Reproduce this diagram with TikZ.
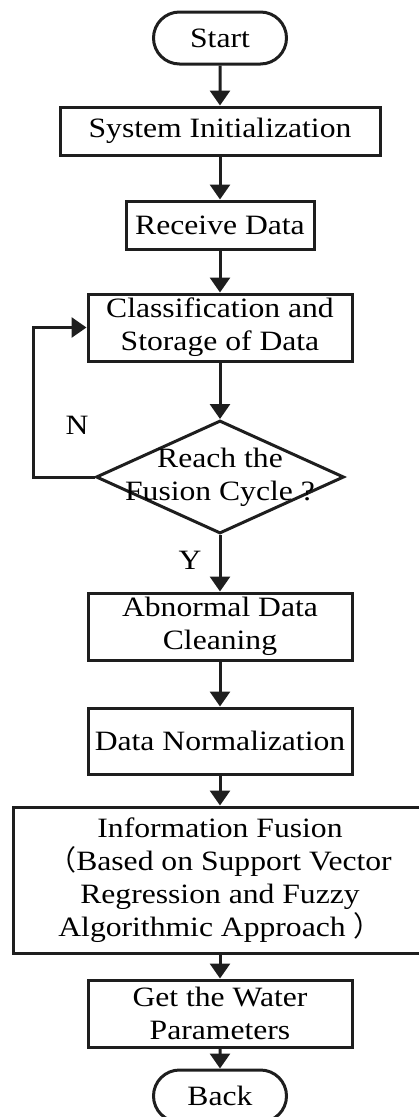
\documentclass[tikz,border=0pt]{standalone}
\usepackage{fontspec}
\setmainfont{Liberation Serif}[FakeStretch=1.13]
\newfontfamily\cjk{Noto Sans CJK SC}
\definecolor{flowline}{RGB}{30, 30, 30}
\usetikzlibrary{shapes.misc, shapes.geometric, arrows.meta, positioning}

\begin{document}
\begin{tikzpicture}[x=1pt, y=-1pt,
    every node/.style={font=\fontsize{28}{33}\selectfont, align=center},
    terminal/.style={draw=flowline, line width=3pt, rounded rectangle, minimum width=133pt, minimum height=52pt, inner sep=0pt},
    process/.style={draw=flowline, line width=3pt, rectangle, minimum height=48pt, inner sep=0pt},
    decision/.style={draw=flowline, line width=3pt, diamond, minimum width=248pt, minimum height=113pt, inner sep=0pt},
    flow/.style={draw=flowline, line width=3pt, -{Triangle[width=20pt, length=15pt]}}]
  \useasboundingbox (0,0) rectangle (419,1117);

  % Start and first steps
  \node[terminal] (start) at (220, 38) {Start};
  \node[process, minimum width=320pt] (init) at (220, 131) {System Initialization};
  \node[process, minimum width=188pt] (recv) at (220, 225) {Receive Data};
  \draw[flow] (start) -- (init);
  \draw[flow] (init) -- (recv);

  % Classification and the fusion cycle check
  \node[process, minimum width=264pt, minimum height=67pt] (classify) at (220, 327.5) {Classification and\\Storage of Data};
  \draw[flow] (recv) -- (classify);
  \node[decision, label={[align=center]center:Reach the\\Fusion Cycle ?}] (cycle) at (220, 477) {};
  \draw[flow] (classify) -- (cycle);
  \draw[flow] (cycle.west) -- ++(-61, 0) |- (classify.west);
  \node (nlabel) at (77, 425) {N};
  \node (ylabel) at (190, 560) {Y};

  % Data processing
  \node[process, minimum width=264pt, minimum height=67pt] (clean) at (220, 626.5) {Abnormal Data\\Cleaning};
  \draw[flow] (cycle) -- (clean);
  \node[process, minimum width=264pt, minimum height=66pt] (norm) at (220, 741) {Data Normalization};
  \draw[flow] (clean) -- (norm);

  % Fusion
  \node[process, minimum width=414pt, minimum height=146pt] (fusion) at (220, 880) {Information Fusion\\{\cjk （}Based on Support Vector\\Regression and Fuzzy\\Algorithmic Approach {\cjk ）}};
  \draw[flow] (norm) -- (fusion);

  % Result and end
  \node[process, minimum width=264pt, minimum height=67pt] (param) at (220, 1013.5) {Get the Water\\Parameters};
  \draw[flow] (fusion) -- (param);
  \node[terminal] (back) at (220, 1096) {Back};
  \draw[flow] (param) -- (back);
\end{tikzpicture}
\end{document}
